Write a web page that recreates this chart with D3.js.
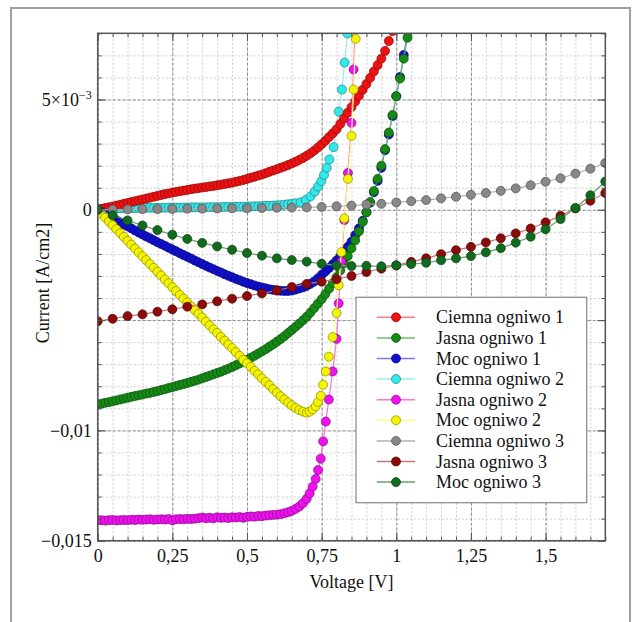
<!DOCTYPE html>
<html>
<head>
<meta charset="utf-8">
<script src="https://cdn.jsdelivr.net/npm/d3@7"></script>
<style>
  body { margin: 0; background: #fff; }
  svg { display: block; }
  text { font-family: "Liberation Serif", "Times New Roman", serif; fill: #111; }
</style>
</head>
<body>
<svg id="chart"></svg>
<script>
// --- data (current in units of 1e-3 A/cm2, voltage in V) ---

// dense voltage sweep used for ogniwo 1 (and the flat part of ogniwo 2)
const sweep = [0,0.0125,0.025,0.0375,0.05,0.0625,0.075,0.0875,0.1,0.1125,0.125,0.1375,0.15,0.1625,0.175,0.1875,
  0.2,0.2125,0.225,0.2375,0.25,0.2625,0.275,0.2875,0.3,0.3125,0.325,0.3375,0.35,0.3625,0.375,0.3875,
  0.4,0.4125,0.425,0.4375,0.45,0.4625,0.475,0.4875,0.5,0.5125,0.525,0.5375,0.55,0.5625,0.575,0.5875,
  0.6,0.6125,0.625,0.6375,0.65,0.6625,0.675,0.6875,0.7,0.7125,0.725,0.7375,0.75,0.7625,0.775,0.7875,
  0.8,0.8125,0.825,0.8375,0.85,0.8625,0.875,0.8875,0.9,0.9125,0.925,0.9375,0.95,0.9625,0.975,0.9875,
  1,1.0125,1.025,1.0375,1.05];

const ciemna1 = [0.00,0.04,0.08,0.11,0.15,0.19,0.23,0.27,0.31,0.35,0.39,0.43,0.47,0.51,0.55,0.59,0.63,0.67,0.71,0.74,
  0.78,0.81,0.84,0.87,0.90,0.93,0.96,0.98,1.01,1.03,1.06,1.08,1.11,1.14,1.17,1.20,1.23,1.27,1.31,1.35,
  1.40,1.45,1.50,1.55,1.60,1.66,1.72,1.78,1.84,1.90,1.96,2.03,2.10,2.18,2.26,2.35,2.45,2.56,2.68,2.82,
  2.97,3.13,3.30,3.47,3.65,3.89,4.14,4.40,4.65,4.91,5.17,5.44,5.70,5.98,6.27,6.56,6.85,7.20,7.65,8.10,8.60];

const jasna1 = [-8.83,-8.79,-8.75,-8.72,-8.68,-8.64,-8.60,-8.56,-8.52,-8.48,-8.44,-8.41,-8.37,-8.33,-8.30,-8.26,-8.22,-8.17,-8.13,-8.08,
  -8.04,-7.99,-7.94,-7.90,-7.85,-7.80,-7.75,-7.70,-7.64,-7.58,-7.52,-7.46,-7.40,-7.34,-7.27,-7.20,-7.13,-7.05,-6.97,-6.89,
  -6.80,-6.71,-6.62,-6.52,-6.42,-6.32,-6.21,-6.10,-5.98,-5.86,-5.73,-5.59,-5.45,-5.31,-5.16,-5.01,-4.85,-4.66,-4.46,-4.26,
  -4.05,-3.82,-3.57,-3.32,-3.05,-2.75,-2.42,-2.10,-1.75,-1.38,-0.98,-0.55,-0.12,0.35,0.85,1.40,2.00,2.75,3.50,4.30,
  5.15,5.95,6.85,7.80,8.80];

const moc1 = [0,-0.10,-0.19,-0.29,-0.38,-0.47,-0.56,-0.66,-0.75,-0.84,-0.94,-1.03,-1.12,-1.21,-1.29,-1.38,-1.47,-1.55,-1.63,-1.72,
  -1.80,-1.88,-1.97,-2.05,-2.13,-2.21,-2.30,-2.38,-2.46,-2.54,-2.62,-2.69,-2.77,-2.84,-2.92,-2.99,-3.06,-3.13,-3.19,-3.26,
  -3.32,-3.37,-3.43,-3.48,-3.52,-3.56,-3.60,-3.63,-3.65,-3.67,-3.68,-3.68,-3.66,-3.62,-3.57,-3.52,-3.45,-3.36,-3.25,-3.11,
  -2.95,-2.80,-2.64,-2.47,-2.30,-2.10,-1.90,-1.68,-1.45,-1.15,-0.84,-0.50,-0.11,0.32,0.79,1.31,1.90,2.70,3.41,4.25,
  5.15,6.02,7.02,8.09,9.20];

// ogniwo 2: voltages of the knee points after the even sweep
const knee2 = [0.6625,0.675,0.6875,0.70,0.71,0.72,0.73,0.738,0.747,0.755,0.764,0.774,0.787,0.80,0.807,0.816,0.826,0.838,0.85,0.857,0.864];
const kneeC2 = [0.68,0.697,0.713,0.727,0.738,0.749,0.758,0.767,0.776,0.79,0.807,0.818,0.827,0.836,0.845];

const ciemna2 = [0.03,0.04,0.05,0.05,0.06,0.06,0.07,0.07,0.07,0.08,0.08,0.08,0.08,0.09,0.09,0.09,0.09,0.09,0.09,0.10,
  0.10,0.10,0.10,0.10,0.10,0.11,0.11,0.11,0.11,0.11,0.12,0.12,0.12,0.12,0.13,0.13,0.13,0.14,0.14,0.14,
  0.15,0.15,0.16,0.16,0.17,0.18,0.18,0.19,0.20,0.21,0.23,0.25,0.27,0.30,
  0.34,0.45,0.61,0.82,1.05,1.30,1.58,1.90,2.28,2.84,4.45,5.45,6.67,7.99,9.40];

const jasna2 = [-14.08,-14.07,-14.09,-14.07,-14.06,-14.08,-14.07,-14.06,-14.07,-14.05,-14.06,-14.04,-14.05,-14.04,-14.03,-14.05,-14.04,-14.03,-14.04,-14.02,
  -14.08,-14.03,-14.02,-14.03,-14.01,-14.02,-14.00,-13.98,-13.95,-13.98,-13.96,-13.99,-13.94,-13.96,-13.95,-13.97,-13.94,-13.95,-13.93,-13.96,
  -13.92,-13.90,-13.91,-13.88,-13.89,-13.86,-13.85,-13.83,-13.82,-13.80,-13.76,-13.71,-13.65,
  -13.56,-13.45,-13.30,-13.10,-12.85,-12.55,-12.20,-11.80,-11.28,-10.50,-9.60,-8.60,-7.33,-5.85,-4.24,-2.35,-0.47,1.67,3.94,6.36,8.97];

const moc2 = [0,-0.18,-0.35,-0.53,-0.70,-0.88,-1.06,-1.23,-1.41,-1.58,-1.76,-1.93,-2.11,-2.28,-2.46,-2.63,-2.81,-2.98,-3.16,-3.33,
  -3.51,-3.68,-3.86,-4.03,-4.20,-4.38,-4.55,-4.72,-4.88,-5.07,-5.24,-5.42,-5.58,-5.76,-5.93,-6.11,-6.27,-6.45,-6.62,-6.80,
  -6.96,-7.12,-7.30,-7.46,-7.64,-7.80,-7.96,-8.13,-8.29,-8.45,-8.60,-8.74,-8.87,
  -8.98,-9.08,-9.15,-9.20,-9.15,-9.05,-8.91,-8.71,-8.43,-7.93,-7.33,-6.66,-5.77,-4.68,-3.42,-1.92,-0.39,1.40,3.35,5.45,7.75];

// ogniwo 3: coarse sweep, 0.05 V
const v3 = [0,0.05,0.1,0.15,0.2,0.25,0.3,0.35,0.4,0.45,0.5,0.55,0.6,0.65,0.7,0.75,0.8,0.85,0.9,0.95,
  1,1.05,1.1,1.15,1.2,1.25,1.3,1.35,1.4,1.45,1.5,1.55,1.6,1.65,1.7];
const ciemna3 = [0.00,0.01,0.02,0.03,0.03,0.04,0.05,0.05,0.06,0.07,0.07,0.08,0.09,0.10,0.11,0.13,0.16,0.19,0.24,0.27,
  0.33,0.39,0.44,0.52,0.59,0.68,0.76,0.86,0.97,1.11,1.27,1.43,1.64,1.86,2.12];
const jasna3 = [-5.05,-4.94,-4.82,-4.74,-4.62,-4.51,-4.39,-4.29,-4.15,-4.03,-3.91,-3.79,-3.66,-3.50,-3.36,-3.26,-3.15,-3.00,-2.82,-2.67,
  -2.52,-2.36,-2.20,-2.01,-1.83,-1.68,-1.48,-1.29,-1.07,-0.85,-0.57,-0.27,0.06,0.41,0.76];
const moc3 = [0,-0.25,-0.48,-0.71,-0.92,-1.13,-1.32,-1.50,-1.66,-1.81,-1.96,-2.08,-2.20,-2.28,-2.35,-2.45,-2.52,-2.55,-2.54,-2.56,
  -2.52,-2.46,-2.40,-2.29,-2.20,-2.10,-1.93,-1.74,-1.49,-1.22,-0.88,-0.42,0.08,0.66,1.28];

// axis ticks
const xMajor = [0, 0.25, 0.5, 0.75, 1, 1.25, 1.5];
const xLabels = ['0', '0,25', '0,5', '0,75', '1', '1,25', '1,5'];
const yMajor = [-15, -10, -5, 0, 5];
const yLabels = ['\u22120,015', '\u22120,01', '', '0', '5\u00d710|\u22123'];

const v2 = sweep.slice(0, 53).concat(knee2);
const v2c = sweep.slice(0, 54).concat(kneeC2);

const series = [
  { name: 'Ciemna ogniwo 1', v: sweep, i: ciemna1, fill: '#ee1111', line: '#f08080' },
  { name: 'Jasna ogniwo 1',  v: sweep, i: jasna1,  fill: '#158a15', line: '#6cbf6c' },
  { name: 'Moc ogniwo 1',    v: sweep, i: moc1,    fill: '#1010cc', line: '#7a7ae0' },
  { name: 'Ciemna ogniwo 2', v: v2c,   i: ciemna2, fill: '#33e8e8', line: '#8ef0f0' },
  { name: 'Jasna ogniwo 2',  v: v2,    i: jasna2,  fill: '#ee10ee', line: '#ff70d8' },
  { name: 'Moc ogniwo 2',    v: v2,    i: moc2,    fill: '#f4f400', line: '#ffff80' },
  { name: 'Ciemna ogniwo 3', v: v3,    i: ciemna3, fill: '#888888', line: '#b0b0b0' },
  { name: 'Jasna ogniwo 3',  v: v3,    i: jasna3,  fill: '#8c0a0a', line: '#c87878' },
  { name: 'Moc ogniwo 3',    v: v3,    i: moc3,    fill: '#106c1c', line: '#6a9e6a' }
];
// drawing order (cyan under red, blue under dense green)
const drawOrder = [3, 0, 2, 1, 4, 5, 6, 7, 8];

// --- layout ---
const width = 632, height = 622;
const svg = d3.select('#chart').attr('width', width).attr('height', height);

// outer frame
svg.append('rect')
  .attr('x', 11).attr('y', 8).attr('width', 619).attr('height', 630)
  .attr('fill', 'none').attr('stroke', '#a0a0a0').attr('stroke-width', 2);

const plot = { left: 97.7, right: 605.3, top: 33.3, bottom: 540.7 };
const pw = plot.right - plot.left, ph = plot.bottom - plot.top;

const x = d3.scaleLinear().domain([0, 1.7]).range([plot.left, plot.right]);
const y = d3.scaleLinear().domain([-15, 8]).range([plot.bottom, plot.top]);

const xMinor = d3.range(0, 35).map(k => +(k * 0.05).toFixed(2));
const yMinor = d3.range(-15, 9);

// grid
function grid(axis, tr, color, dash) {
  const g = svg.append('g').attr('transform', tr).call(axis);
  g.select('.domain').remove();
  g.selectAll('line').attr('stroke', color).attr('stroke-dasharray', dash).attr('stroke-width', 1);
}
grid(d3.axisBottom(x).tickValues(xMinor).tickSize(-ph).tickFormat(''), `translate(0,${plot.bottom})`, '#cdcdcd', '2,2');
grid(d3.axisLeft(y).tickValues(yMinor).tickSize(-pw).tickFormat(''), `translate(${plot.left},0)`, '#cdcdcd', '2,2');
grid(d3.axisBottom(x).tickValues(xMajor).tickSize(-ph).tickFormat(''), `translate(0,${plot.bottom})`, '#8c8c8c', '3,2');
grid(d3.axisLeft(y).tickValues(yMajor).tickSize(-pw).tickFormat(''), `translate(${plot.left},0)`, '#8c8c8c', '3,2');

// series
svg.append('clipPath').attr('id', 'clip')
  .append('rect').attr('x', plot.left).attr('y', plot.top).attr('width', pw).attr('height', ph);
const layer = svg.append('g').attr('clip-path', 'url(#clip)');

const line = d3.line().x(d => x(d[0])).y(d => y(d[1]));

drawOrder.forEach(k => {
  const s = series[k];
  const pts = d3.zip(s.v, s.i);
  const g = layer.append('g');
  g.append('path').datum(pts)
    .attr('fill', 'none').attr('stroke', s.line).attr('stroke-width', 1.2).attr('d', line);
  g.selectAll('circle').data(pts).join('circle')
    .attr('cx', d => x(d[0])).attr('cy', d => y(d[1])).attr('r', 4.5)
    .attr('fill', s.fill)
    .attr('stroke', d3.color(s.fill).darker(1.6)).attr('stroke-width', 0.7);
});

// ticks pointing inward on all four sides
function ticks(axis, tr) {
  const g = svg.append('g').attr('transform', tr).call(axis);
  g.select('.domain').remove();
  g.selectAll('line').attr('stroke', '#555').attr('stroke-width', 1);
  return g;
}
ticks(d3.axisBottom(x).tickValues(xMinor).tickSize(-4).tickFormat(''), `translate(0,${plot.bottom})`);
ticks(d3.axisTop(x).tickValues(xMinor).tickSize(-4).tickFormat(''), `translate(0,${plot.top})`);
ticks(d3.axisLeft(y).tickValues(yMinor).tickSize(-4).tickFormat(''), `translate(${plot.left},0)`);
ticks(d3.axisRight(y).tickValues(yMinor).tickSize(-4).tickFormat(''), `translate(${plot.right},0)`);
ticks(d3.axisTop(x).tickValues(xMajor).tickSize(-8).tickFormat(''), `translate(0,${plot.top})`);
ticks(d3.axisRight(y).tickValues(yMajor).tickSize(-8).tickFormat(''), `translate(${plot.right},0)`);

const xAxis = ticks(d3.axisBottom(x).tickValues(xMajor).tickSizeInner(-8).tickSizeOuter(0).tickPadding(9)
  .tickFormat((d, k) => xLabels[k]), `translate(0,${plot.bottom})`);
xAxis.selectAll('text').attr('font-size', 18).attr('font-family', '"Liberation Serif", serif').attr('fill', '#111');

const yAxis = ticks(d3.axisLeft(y).tickValues(yMajor).tickSizeInner(-8).tickSizeOuter(0).tickPadding(6)
  .tickFormat(''), `translate(${plot.left},0)`);
yAxis.selectAll('.tick').each(function (d, k) {
  const parts = yLabels[k].split('|');
  const t = d3.select(this).select('text')
    .attr('font-size', 18).attr('font-family', '"Liberation Serif", serif').attr('fill', '#111');
  t.append('tspan').text(parts[0]);
  if (parts[1]) t.append('tspan').attr('font-size', 12).attr('dy', '-0.6em').text(parts[1]);
});

// plot frame
svg.append('rect')
  .attr('x', plot.left).attr('y', plot.top).attr('width', pw).attr('height', ph)
  .attr('fill', 'none').attr('stroke', '#555').attr('stroke-width', 1.5);

// axis titles
svg.append('text')
  .attr('x', (plot.left + plot.right) / 2).attr('y', 588)
  .attr('text-anchor', 'middle').attr('font-size', 18)
  .text('Voltage [V]');
svg.append('text')
  .attr('transform', `translate(49,283) rotate(-90)`)
  .attr('text-anchor', 'middle').attr('font-size', 18)
  .text('Current [A/cm2]');

// legend
const legend = svg.append('g');
legend.append('rect')
  .attr('x', 356).attr('y', 297.3).attr('width', 230.7).attr('height', 205.4)
  .attr('fill', '#fff').attr('stroke', '#888').attr('stroke-width', 1.2);
series.forEach((s, k) => {
  const cy = 317.3 + k * 20.6;
  legend.append('line')
    .attr('x1', 376.7).attr('x2', 415).attr('y1', cy).attr('y2', cy)
    .attr('stroke', s.line).attr('stroke-width', 1.5);
  legend.append('circle')
    .attr('cx', 396).attr('cy', cy).attr('r', 4.5)
    .attr('fill', s.fill).attr('stroke', d3.color(s.fill).darker(1.6)).attr('stroke-width', 0.7);
  legend.append('text')
    .attr('x', 436).attr('y', cy + 6).attr('font-size', 18)
    .text(s.name);
});
</script>
</body>
</html>
